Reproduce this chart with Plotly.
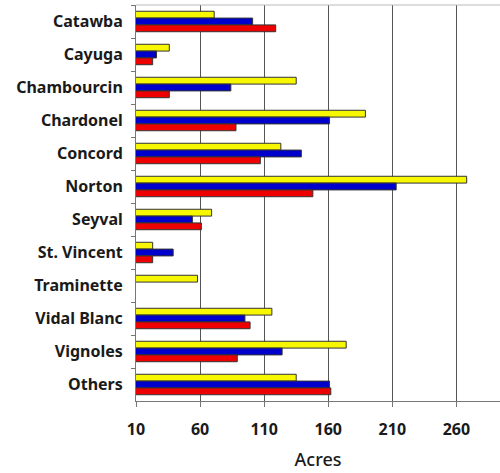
import plotly.graph_objects as go

categories = ["Catawba", "Cayuga", "Chambourcin", "Chardonel", "Concord", "Norton",
              "Seyval", "St. Vincent", "Traminette", "Vidal Blanc", "Vignoles", "Others"]
yellow_vals = [71, 36, 135, 189, 123, 268, 69, 23, 58, 116, 174, 135]
blue_vals = [101, 26, 84, 161, 139, 213, 54, 39, None, 95, 124, 161]
red_vals = [119, 23, 36, 88, 107, 148, 61, 23, None, 99, 89, 162]
x_ticks = [10, 60, 110, 160, 210, 260]

FONT = "Noto Sans"
fig = go.Figure()
for vals, col in [(yellow_vals, "#f7f700"), (blue_vals, "#0000cc"), (red_vals, "#ee0000")]:
    fig.add_trace(go.Bar(
        y=categories, x=vals, orientation="h",
        marker=dict(color=col, line=dict(color="#333333", width=1)),
        showlegend=False,
    ))

fig.update_layout(
    width=500, height=473,
    margin=dict(l=136, r=0, t=5, b=72),
    paper_bgcolor="white", plot_bgcolor="white",
    barmode="group", bargap=0.38, bargroupgap=0,
    font=dict(family=FONT, color="#1a1a1a"),
    xaxis=dict(
        range=[10, 294], tickvals=x_ticks, ticktext=[str(v) for v in x_ticks],
        showgrid=True, gridcolor="#555555", gridwidth=1,
        showline=True, linecolor="#777777", linewidth=1,
        ticks="outside", ticklen=5, tickcolor="#777777",
        ticklabelstandoff=9,
        tickfont=dict(size=16, family=FONT, color="#1a1a1a", weight="bold"),
        title=dict(text="Acres", font=dict(size=18, family=FONT, color="#1a1a1a", weight=500), standoff=14),
        zeroline=False,
    ),
    yaxis=dict(
        autorange="reversed", type="category",
        showline=True, linecolor="#777777", linewidth=1,
        ticks="outside", ticklen=4, tickcolor="#777777", tickson="boundaries",
        ticklabelstandoff=9,
        tickfont=dict(size=16, family=FONT, color="#1a1a1a", weight="bold"),
        showgrid=False,
    ),
)
fig.add_shape(type="line", xref="paper", yref="paper", x0=0, x1=1, y0=1, y1=1,
              line=dict(color="#bbbbbb", width=1))

fig.write_html("out.html")
